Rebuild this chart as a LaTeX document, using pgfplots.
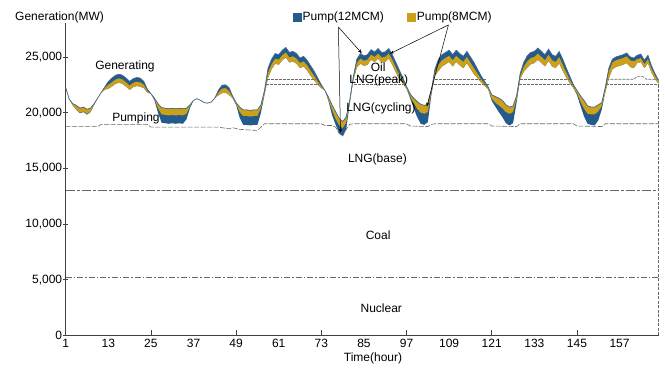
\documentclass[border=0pt]{standalone}
\usepackage{fontspec}
\setmainfont{Liberation Sans}
\usepackage{pgfplots}
\pgfplotsset{compat=1.18}
\usepackage{pgfplotstable}
\usepgfplotslibrary{fillbetween}
\usetikzlibrary{arrows.meta}
\definecolor{pblue}{RGB}{35,92,140}
\definecolor{pyellow}{RGB}{205,160,25}
\definecolor{lgray}{RGB}{105,105,105}
\definecolor{tline}{RGB}{70,105,140}

\pgfplotstableread{
h T YT YB W
1 22250 22250 22250 22250
2 21200 21200 21200 21200
3 20800 20800 20650 20650
4 20650 20650 20300 20250
5 20400 20400 20000 19950
6 20500 20500 20100 20050
7 20300 20300 19900 19820
8 20400 20400 20100 20050
9 20800 20800 20700 20700
10 21300 21300 21300 21300
11 21800 21800 21800 21800
12 22300 22200 22050 22050
13 22800 22500 22150 22150
14 23100 22720 22340 22340
15 23350 22970 22590 22590
16 23450 23070 22690 22690
17 23350 22970 22590 22590
18 23100 22720 22340 22340
19 22800 22420 22040 22040
20 23050 22670 22290 22290
21 23150 22770 22390 22390
22 23100 22720 22340 22340
23 22800 22500 22200 22200
24 22100 21950 21800 21800
25 21700 21700 21700 21700
26 21300 21300 21200 21100
27 20800 20800 20400 20000
28 20450 20450 19850 19100
29 20400 20400 19800 19050
30 20350 20350 19750 19000
31 20400 20400 19800 19050
32 20350 20350 19750 19000
33 20400 20400 19800 19050
34 20350 20350 19750 19000
35 20400 20400 19900 19400
36 20700 20700 20550 20400
37 21100 21100 21100 21100
38 21250 21250 21250 21250
39 21100 21100 21100 21100
40 20900 20900 20900 20900
41 20850 20850 20850 20850
42 20950 20950 20950 20950
43 21300 21300 21300 21300
44 22000 21800 21550 21550
45 22450 22150 21750 21750
46 22500 22200 21800 21800
47 22250 21950 21600 21600
48 21500 21400 21300 21300
49 20900 20900 20800 20700
50 20500 20500 20050 19550
51 20250 20250 19700 18900
52 20250 20250 19700 18900
53 20200 20200 19650 18850
54 20250 20250 19700 18900
55 20250 20250 19700 18900
56 20700 20700 20400 20000
57 22000 21800 21600 21600
58 24000 23600 23150 23150
59 24800 24350 23900 23900
60 25300 24850 24400 24400
61 25200 24750 24300 24300
62 25600 25150 24700 24700
63 25850 25400 24950 24950
64 25400 24950 24500 24500
65 25500 25050 24600 24600
66 25300 24850 24400 24400
67 24900 24450 24000 24000
68 25050 24600 24150 24150
69 24700 24250 23800 23800
70 24200 23750 23300 23300
71 23700 23300 22900 22900
72 23100 22800 22500 22500
73 22500 22350 22200 22200
74 22000 22000 22000 22000
75 21400 21400 21150 21050
76 20700 20700 20250 19800
77 20100 20100 19450 18950
78 19500 19500 18900 18150
79 19200 19200 18600 17900
80 19600 19600 19100 18500
81 21100 21100 20950 20800
82 23200 23050 22900 22900
83 24800 24450 24050 24050
84 25300 24850 24400 24400
85 25100 24650 24200 24200
86 25200 24750 24300 24300
87 25650 25200 24750 24750
88 25450 25000 24550 24550
89 25750 25300 24850 24850
90 25400 24950 24500 24500
91 25450 25000 24550 24550
92 25750 25300 24850 24850
93 25200 24750 24300 24300
94 24500 24050 23600 23600
95 23800 23400 23000 23000
96 23100 22850 22600 22600
97 22350 22250 22150 22150
98 21700 21700 21500 21300
99 21300 21300 20850 20400
100 21000 21000 20350 19600
101 20750 20750 20000 19000
102 20650 20650 19900 18900
103 20750 20750 20050 19150
104 22000 22000 21800 21600
105 23900 23600 23300 23300
106 24800 24300 23750 23750
107 25200 24700 24150 24150
108 25400 24900 24350 24350
109 25600 25100 24550 24550
110 25200 24700 24150 24150
111 25600 25100 24550 24550
112 25300 24800 24250 24250
113 25050 24550 24000 24000
114 25500 25000 24450 24450
115 25000 24500 23950 23950
116 24500 24000 23450 23450
117 23900 23500 23100 23100
118 23300 23000 22700 22700
119 22800 22600 22400 22400
120 22300 22200 22100 22100
121 21600 21600 21250 21050
122 21450 21450 20900 20550
123 21300 21300 20650 20050
124 21100 21100 20400 19600
125 20700 20700 20050 19050
126 20500 20500 19900 18850
127 20600 20600 20050 19050
128 21500 21500 21200 20900
129 23500 23250 23000 23000
130 24500 24100 23650 23650
131 25100 24600 24050 24050
132 25400 24900 24350 24350
133 25500 25000 24450 24450
134 25800 25300 24750 24750
135 25500 25000 24450 24450
136 25200 24700 24150 24150
137 25700 25200 24650 24650
138 25200 24700 24150 24150
139 25050 24550 24000 24000
140 25480 24980 24430 24430
141 24800 24300 23750 23750
142 24000 23600 23150 23150
143 23250 22950 22650 22650
144 22500 22350 22200 22200
145 22000 22000 21750 21600
146 21500 21500 21000 20600
147 21100 21100 20350 19650
148 20600 20600 19900 19000
149 20500 20500 19850 18900
150 20500 20500 19850 18850
151 20700 20700 20100 19300
152 20900 20900 20600 20300
153 22300 22150 21850 21850
154 24000 23700 23100 23100
155 24800 24500 23900 23900
156 25000 24700 24100 24100
157 25100 24800 24200 24200
158 25200 24900 24300 24300
159 25350 25050 24450 24450
160 25000 24700 24100 24100
161 24900 24600 24000 24000
162 25150 24800 24450 24450
163 25250 24900 24550 24550
164 24700 24350 24000 24000
165 25150 24800 24450 24450
166 24200 23950 23600 23600
167 23500 23300 23000 23000
168 22900 22800 22600 22600
}\curves

\pgfplotstableread{
h v
1 18750
10 18750
11 18950
24 18950
25 18700
44 18700
47 18550
48 18650
50 18500
55 18400
57 19000
73 19000
74 18850
76 18850
77 18700
78 18150
79 17900
80 18500
81 18950
82 19000
97 19000
98 18800
103 18750
104 18950
105 19000
120 19000
121 18800
128 18750
129 19000
144 19000
145 18800
152 18750
153 19000
168 19000
}\lngbase

\begin{document}
\begin{tikzpicture}[font=\fontsize{12}{14}\selectfont]
\begin{axis}[
  at={(0pt,0pt)}, anchor=south west,
  scale only axis, width=592.9pt, height=312pt,
  xmin=1, xmax=168, ymin=0, ymax=28000,
  axis x line*=bottom, axis y line*=left,
  axis line style={-, draw=black!75, line width=0.8pt},
  xtick={1,25,49,73,97,121,145},
  extra x ticks={13,37,61,85,109,133,157},
  extra x tick style={tick style={draw=none}},
  ytick={0,5000,10000,15000,20000,25000},
  scaled y ticks=false,
  yticklabel style={/pgf/number format/.cd, 1000 sep={,}},
  /pgf/number format/assume math mode=true,
  tick label style={font=\fontsize{12}{14}\selectfont, black},
  tick align=inside, major tick length=5pt,
  tick style={black!75, line width=0.8pt},
  every y tick/.append style={xshift=-3pt},
  clip=false,
  legend columns=2,
  legend style={draw=none, fill=none, inner sep=0pt,
    at={(0.3834,1.0208)}, anchor=west,
    font=\fontsize{12}{14}\selectfont,
    nodes={inner sep=1.5pt},
    /tikz/every even column/.append style={column sep=22pt}},
]
\addlegendimage{legend image code/.code={\fill[pblue] (0pt,-4pt) rectangle (7.5pt,4pt);}}
\addlegendentry{Pump(12MCM)}
\addlegendimage{legend image code/.code={\fill[pyellow] (0pt,-4pt) rectangle (7.5pt,4pt);}}
\addlegendentry{Pump(8MCM)}

\addplot[draw=none, name path=T, forget plot] table[x=h, y=T]{\curves};
\addplot[draw=none, name path=W, forget plot] table[x=h, y=W]{\curves};
\addplot[draw=none, name path=YT, forget plot] table[x=h, y=YT]{\curves};
\addplot[draw=none, name path=YB, forget plot] table[x=h, y=YB]{\curves};
\addplot[fill=pblue, draw=none, forget plot] fill between[of=T and W];
\addplot[fill=pyellow, draw=none, forget plot] fill between[of=YT and YB];

% stack boundaries
\addplot[lgray, line width=0.6pt, dash pattern=on 9pt off 2pt on 3pt off 2pt, forget plot] coordinates {(1,13000) (168,13000)};
\addplot[lgray, line width=0.6pt, dash pattern=on 6pt off 2pt on 1.5pt off 2pt, forget plot] coordinates {(1,5200) (168,5200)};
\addplot[lgray, line width=0.6pt, dash pattern=on 5pt off 1.5pt, forget plot] table[x=h, y=v]{\lngbase};
% LNG(cycling) and LNG(peak) tops
\addplot[lgray, line width=0.6pt, dash pattern=on 3pt off 1pt, forget plot] coordinates {(57.4,22500) (72.3,22500)};
\addplot[lgray, line width=0.6pt, dash pattern=on 3pt off 1pt, forget plot] coordinates {(57.7,23000) (71.5,23000)};
\addplot[lgray, line width=0.6pt, dash pattern=on 3pt off 1pt, forget plot] coordinates {(82.2,22500) (96.5,22500)};
\addplot[lgray, line width=0.6pt, dash pattern=on 3pt off 1pt, forget plot] coordinates {(82.5,23000) (95.8,23000)};
\addplot[lgray, line width=0.6pt, dash pattern=on 3pt off 1pt, forget plot] coordinates {(104.8,22500) (120.3,22500)};
\addplot[lgray, line width=0.6pt, dash pattern=on 3pt off 1pt, forget plot] coordinates {(105.1,23000) (119.5,23000)};
\addplot[lgray, line width=0.6pt, dash pattern=on 3pt off 1pt, forget plot] coordinates {(128.6,22500) (144.2,22500)};
\addplot[lgray, line width=0.6pt, dash pattern=on 3pt off 1pt, forget plot] coordinates {(129,23000) (143.3,23000)};
\addplot[lgray, line width=0.6pt, dash pattern=on 3pt off 1pt, forget plot] coordinates {(153.1,22500) (168,22500)};
\addplot[lgray, line width=0.6pt, dash pattern=on 3pt off 1pt, forget plot] coordinates {(153.3,23000) (161,23000) (162,23250) (163.5,23250) (164.5,23000) (167.7,23000)};
\addplot[lgray, line width=0.6pt, dash pattern=on 3pt off 1.5pt, forget plot] coordinates {(168,0) (168,22600)};

\addplot[tline, line width=0.7pt, forget plot] table[x=h, y=T]{\curves};

\node at (axis cs:17.7,24190) {Generating};
\node at (axis cs:20.8,19500) {Pumping};
\node at (axis cs:89,24050) {Oil};
\node at (axis cs:89.2,22930) {LNG(peak)};
\node at (axis cs:89.8,20390) {LNG(cycling)};
\node at (axis cs:88.8,15820) {LNG(base)};
\node at (axis cs:89,9020) {Coal};
\node at (axis cs:89.9,2440) {Nuclear};

\draw[-{Stealth[length=4pt,width=3pt]}, line width=0.5pt] (axis cs:77.8,27690) -- (axis cs:78.4,18200);
\draw[-{Stealth[length=4pt,width=3pt]}, line width=0.5pt] (axis cs:77.8,27690) -- (axis cs:84.4,25330);
\draw[-{Stealth[length=4pt,width=3pt]}, line width=0.5pt] (axis cs:108.8,27870) -- (axis cs:92.4,25300);
\draw[-{Stealth[length=4pt,width=3pt]}, line width=0.5pt] (axis cs:108.8,27870) -- (axis cs:102.7,20540);
\end{axis}
\node[anchor=west, inner sep=0pt] at (-50.7pt,318.5pt) {Generation(MW)};
\node[inner sep=0pt] at (307.3pt,-22.5pt) {Time(hour)};
\pgfresetboundingbox
\useasboundingbox (-65.7pt,-38.5pt) rectangle (599.3pt,335.5pt);
\end{tikzpicture}
\end{document}
